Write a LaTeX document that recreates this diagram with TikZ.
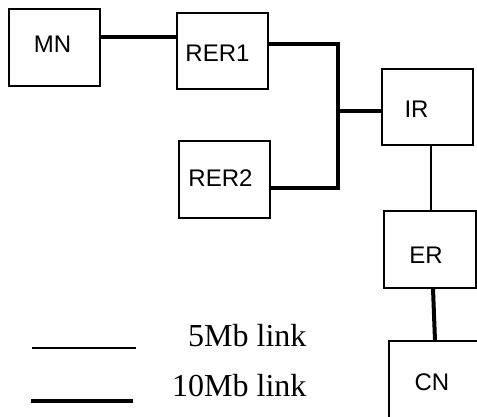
\documentclass[tikz,border=0pt]{standalone}
\usepackage{fontspec}
\setmainfont{Liberation Serif}
\newfontfamily\arialfont{Liberation Sans}
\begin{document}
\begin{tikzpicture}[x=1pt,y=-1pt,
  box/.style={draw=black, line width=1.1pt, minimum width=91pt, minimum height=77pt, inner sep=0pt},
  lbl/.style={font=\arialfont\fontsize{24}{28}\selectfont, inner sep=0pt, anchor=base},
  thk/.style={line width=4pt},
  thn/.style={line width=1.2pt},
  leg/.style={font=\fontsize{32}{36}\selectfont, inner sep=0pt, anchor=base west}]
\useasboundingbox (0,0) rectangle (477,417);
\clip (0,0) rectangle (477,417);
% boxes
\node[box] (mn)   at (54.5,47.5) {};
\node[box, minimum height=76pt] (rer1) at (222.5,51) {};
\node[box] (rer2) at (224.5,179.5) {};
\node[box, minimum height=76pt] (ir)   at (427.5,107) {};
\node[box, minimum width=92pt] (er)   at (430,249.5) {};
\node[box] (cn)   at (434.5,379.5) {};
% labels
\node[lbl] (mnt)   at (52.5,52.7) {MN};
\node[lbl] (rer1t) at (217.5,61.7) {RER1};
\node[lbl] (rer2t) at (220.5,186.7) {RER2};
\node[lbl] (irt)   at (416.5,117.3) {IR};
\node[lbl] (ert)   at (426,263.3) {ER};
\node[lbl] (cnt)   at (432,390) {CN};
% links
\coordinate (bj) at (338,111);
\draw[thk] ([yshift=10.8pt]mn.east) -- ([yshift=10.8pt]mn.east -| rer1.west);
\draw[thk] ([yshift=7pt]rer1.east) -| (bj) |- ([yshift=-8.5pt]rer2.east);
\draw[thk] (bj) -- (bj -| ir.west);
\draw[thn] ([xshift=3.5pt]ir.south) -- ([xshift=3.5pt]ir.south |- er.north);
\draw[thk] ([xshift=3pt]er.south) -- ([xshift=0.5pt]cn.north);
% legend
\coordinate (l1a) at (32,348);
\coordinate (l1b) at (136,348);
\coordinate (l2a) at (31,401);
\coordinate (l2b) at (133,401);
\draw[line width=1.5pt] (l1a) -- (l1b);
\draw[line width=3.6pt] (l2a) -- (l2b);
\node[leg] (t5)  at (188,346.7) {5Mb link};
\node[leg] (t10) at (172,396) {10Mb link};
\end{tikzpicture}
\end{document}
